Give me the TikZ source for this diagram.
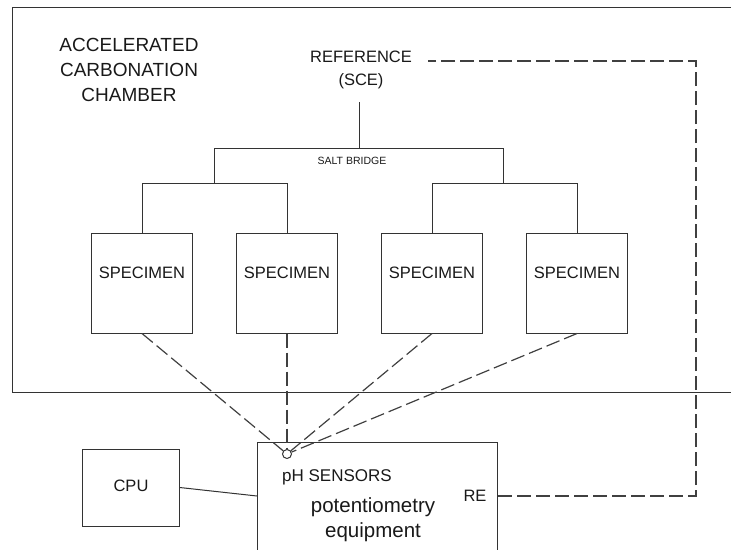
\documentclass[tikz,border=0pt]{standalone}
\usepackage{fontspec}
\setmainfont{Liberation Sans}
\begin{document}
\begin{tikzpicture}[x=1pt,y=-1pt,
  line width=1pt, draw=black!80,
  dline/.style={draw=black!75, line width=1.2pt, dash pattern=on 14pt off 5pt},
  sbox/.style={draw=black!80, line width=1pt, minimum width=101pt, minimum height=100pt, inner sep=0pt},
  lbl/.style={inner sep=0pt, text=black!90, font=\fontsize{16.5}{20}\selectfont},
]
\useasboundingbox (0,0) rectangle (731,549);
\begin{scope}
\clip (0,0) rectangle (731,549);
% chamber
\draw (731,7.5) -- (12.5,7.5) -- (12.5,392) -- (731,392);
\node[lbl, align=center, font=\fontsize{19}{25}\selectfont] (chamber) at (129,70) {ACCELERATED\\CARBONATION\\CHAMBER};
% reference
\node[lbl, align=center, font=\fontsize{16.5}{23}\selectfont] (ref) at (361,70) {REFERENCE\\(SCE)};
\coordinate (refbot) at (359,102);
\coordinate (refr) at (428,61);
% salt bridge
\coordinate (sbm) at (359,148);
\coordinate (sbl) at (214,148);
\coordinate (sbr) at (503,148);
\node[lbl, font=\fontsize{10.5}{12}\selectfont] (salt) at (352,161) {SALT BRIDGE};
\coordinate (ll) at (214,183);
\coordinate (rr) at (503,183);
% specimens
\foreach \i/\x in {1/142,2/287,3/432,4/577}{
  \node[sbox] (s\i) at (\x,283) {};
  \node[lbl] (t\i) at (\x,273) {SPECIMEN};
}
\draw (refbot) -- (sbm);
\draw (sbl) -- (sbr);
\draw (sbl) -- (ll);
\draw (sbr) -- (rr);
\draw (s1.north) -- (s1.north |- ll) -- (s2.north |- ll) -- (s2.north);
\draw (s3.north) -- (s3.north |- rr) -- (s4.north |- rr) -- (s4.north);
% potentiometry equipment
\node[draw=black!80, line width=1pt, minimum width=239.5pt, minimum height=140pt, inner sep=0pt, anchor=north west] (pot) at (257,442) {};
\node[draw=black!80, line width=1pt, circle, minimum size=9pt, inner sep=0pt] (circ) at (287,454) {};
\node[lbl, font=\fontsize{17}{20}\selectfont] (ph) at (337,477) {pH SENSORS};
\node[lbl] (re) at (475,496) {RE};
\node[lbl, align=center, font=\fontsize{20.5}{25}\selectfont] (potlbl) at (373,520) {potentiometry\\equipment};
\coordinate (rer) at (498,496);
\coordinate (c1) at (696,496);
\coordinate (c2) at (696,61);
% CPU
\node[draw=black!80, line width=1pt, minimum width=96.5pt, minimum height=77pt, inner sep=0pt] (cpu) at (131,487.5) {};
\node[lbl] (cputxt) at (131,486) {CPU};
\coordinate (potw) at (257,496);
\draw (cpu.east) -- (potw);
% dashed connections
\foreach \i in {1,2,3,4}{ \draw[dline] (s\i.south) -- (circ); }
\draw[dline] (rer) -- (c1) -- (c2) -- (refr);
\end{scope}
\end{tikzpicture}
\end{document}
